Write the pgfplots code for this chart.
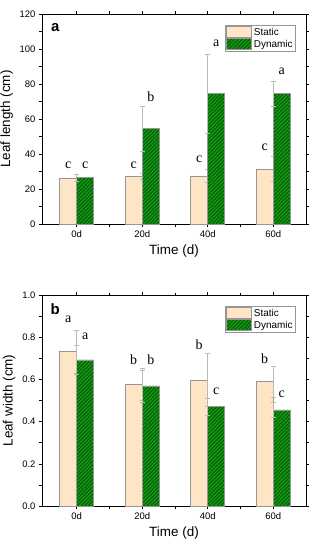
\documentclass[border=0pt]{standalone}
\usepackage{pgfplots}
\pgfplotsset{compat=1.18}
\usepackage{fontspec}
\setmainfont{Liberation Sans}
\newfontfamily\serifletters{Liberation Serif}
\usetikzlibrary{patterns.meta}
\definecolor{peach}{RGB}{253,229,198}
\definecolor{dgreen}{RGB}{20,150,20}
\definecolor{hgreen}{RGB}{0,75,0}
\definecolor{edgegray}{RGB}{150,150,150}
\definecolor{errgray}{RGB}{185,185,185}
\pgfplotsset{
  mystyle/.style={
    scale only axis, width=264bp, height=210bp,
    xmin=-0.53, xmax=3.5,
    xtick={0,1,2,3}, xticklabels={0d,20d,40d,60d},
    minor xtick={0.5,1.5,2.5},
    tick pos=both, tick align=outside,
    major tick length=3bp, minor tick length=2.5bp,
    every tick/.style={black, line width=0.5bp},
    axis line style={black, line width=0.6bp},
    /pgf/number format/assume math mode=true,
    tick label style={font=\fontsize{9.5}{11}\selectfont},
    label style={font=\fontsize{13.5}{15}\selectfont},
    xlabel={Time (d)},
    legend style={at={(0.962,0.948)}, anchor=north east, draw=edgegray, line width=0.6bp,
      font=\fontsize{10}{11}\selectfont, inner sep=1bp, row sep=-1bp,
      cells={anchor=west}},
    legend image code/.code={\path[##1] (0bp,-5bp) rectangle (25bp,6bp);},
  },
  sbar/.style={ybar, bar width=0.26, bar shift=-0.13, fill=peach, draw=edgegray, line width=0.6bp,
    error bars/.cd, y dir=both, y explicit,
    error bar style={errgray, line width=0.6bp},
    error mark options={errgray, rotate=90, mark size=2.5bp, line width=0.6bp}},
  dbar/.style={ybar, bar width=0.26, bar shift=0.13, fill=dgreen, draw=edgegray, line width=0.6bp,
    postaction={pattern={Lines[angle=45,distance=2.6bp,line width=0.7bp]}, pattern color=hgreen},
    error bars/.cd, y dir=both, y explicit,
    error bar style={errgray, line width=0.6bp},
    error mark options={errgray, rotate=90, mark size=2.5bp, line width=0.6bp}},
  letters/.style={only marks, mark=none, nodes near coords, point meta=explicit symbolic,
    every node near coord/.append style={anchor=center, font=\serifletters\fontsize{14}{16}\selectfont}},
}
\begin{document}
\begin{tikzpicture}
\path[use as bounding box] (-42bp,-326bp) rectangle (273bp,224bp);
\begin{axis}[mystyle, at={(0bp,0bp)}, anchor=south west,
  ymin=0, ymax=120, ytick={0,20,...,120}, minor ytick={10,30,...,110},
  ylabel={Leaf length (cm)}]
\addplot[sbar] coordinates {(0,26.3) +- (0,2.0) (1,27.2) +- (0,1.5) (2,27.5) +- (0,3.8) (3,31.5) +- (0,7.0)};
\addlegendentry{Static}
\addplot[dbar] coordinates {(0,26.5) +- (0,2.0) (1,54.5) +- (0,12.7) (2,74.5) +- (0,22.5) (3,74.5) +- (0,7.0)};
\addlegendentry{Dynamic}
\addplot[letters, forget plot] table[meta=l] {
x y l
-0.13 33.7 c
0.13 33.7 c
0.87 33.7 c
1.13 72.8 b
1.87 37.0 c
2.13 103.0 a
2.87 43.8 c
3.13 87.4 a
};
\node[font=\bfseries\fontsize{15}{17}\selectfont] at (rel axis cs:0.05,0.935) {a};
\end{axis}
\begin{axis}[mystyle, at={(0bp,-282bp)}, anchor=south west, height=211bp,
  ymin=0, ymax=1.0, ytick={0,0.2,...,1.0}, minor ytick={0.1,0.3,...,0.9},
  yticklabel style={/pgf/number format/.cd, fixed, fixed zerofill, precision=1},
  ylabel={Leaf width (cm)}]
\addplot[sbar] coordinates {(0,0.731) +- (0,0.10) (1,0.577) +- (0,0.075) (2,0.597) +- (0,0.126) (3,0.589) +- (0,0.072)};
\addlegendentry{Static}
\addplot[dbar] coordinates {(0,0.692) +- (0,0.07) (1,0.569) +- (0,0.076) (2,0.471) +- (0,0.04) (3,0.455) +- (0,0.036)};
\addlegendentry{Dynamic}
\addplot[letters, forget plot] table[meta=l] {
x y l
-0.13 0.885 a
0.13 0.806 a
0.87 0.695 b
1.13 0.692 b
1.87 0.763 b
2.13 0.542 c
2.87 0.700 b
3.13 0.531 c
};
\node[font=\bfseries\fontsize{15}{17}\selectfont] at (rel axis cs:0.05,0.935) {b};
\end{axis}
\end{tikzpicture}
\end{document}
